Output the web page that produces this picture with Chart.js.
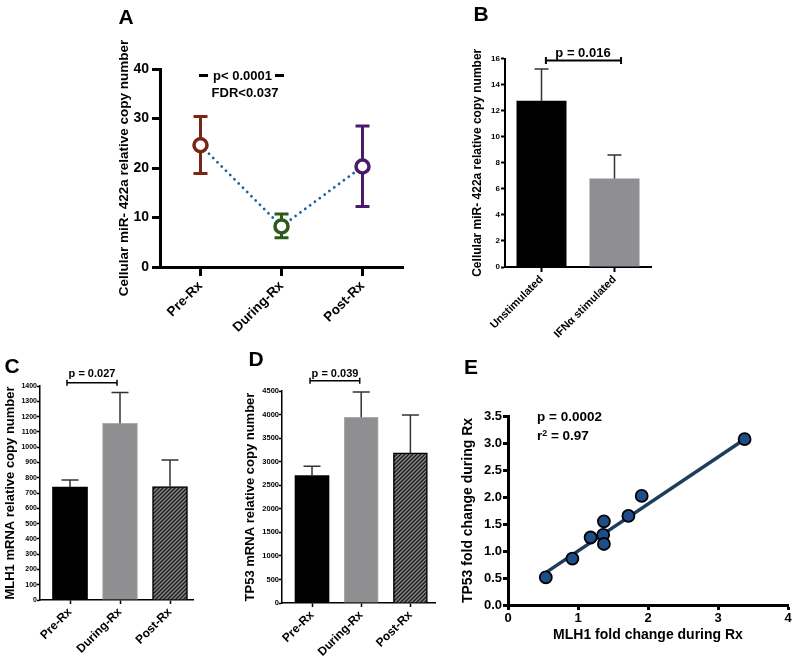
<!DOCTYPE html>
<html>
<head>
<meta charset="utf-8">
<script src="https://cdn.jsdelivr.net/npm/chart.js@4.4.0/dist/chart.umd.min.js"></script>
<style>
  body { margin: 0; background: #fff; width: 794px; height: 659px; position: relative; overflow: hidden;
         font-family: 'Liberation Sans', Arial, sans-serif; font-weight: bold; color: #000; }
  .box { position: absolute; }
  .t { position: absolute; transform: translate(-50%, -50%); white-space: nowrap; line-height: 1; }
  .tl { position: absolute; transform: translateY(-50%); white-space: nowrap; line-height: 1; }
  .dash { position: absolute; height: 3px; background: #000; }
  sup { font-size: 0.65em; line-height: 0; vertical-align: 0.45em; }
</style>
</head>
<body>
<div class="box" style="left:100px;top:25px;width:310px;height:320px"><canvas id="chartA"></canvas></div>
<div class="box" style="left:460px;top:30px;width:200px;height:310px"><canvas id="chartB"></canvas></div>
<div class="box" style="left:0px;top:375px;width:200px;height:284px"><canvas id="chartC"></canvas></div>
<div class="box" style="left:240px;top:375px;width:200px;height:284px"><canvas id="chartD"></canvas></div>
<div class="box" style="left:455px;top:400px;width:339px;height:259px"><canvas id="chartE"></canvas></div>

<div class="t" style="left:126px;top:16px;font-size:21px">A</div>
<div class="t" style="left:481px;top:13px;font-size:21px">B</div>
<div class="t" style="left:12px;top:365px;font-size:21px">C</div>
<div class="t" style="left:256px;top:358px;font-size:21px">D</div>
<div class="t" style="left:471px;top:366px;font-size:21px">E</div>

<div class="dash" style="left:199px;top:73.5px;width:9px"></div>
<div class="t" style="left:242.5px;top:75px;font-size:13px">p&lt; 0.0001</div>
<div class="dash" style="left:275px;top:73.5px;width:9px"></div>
<div class="t" style="left:245px;top:91.5px;font-size:13px">FDR&lt;0.037</div>
<div class="t" style="left:583px;top:52px;font-size:13px">p = 0.016</div>
<div class="t" style="left:92px;top:373px;font-size:11px">p = 0.027</div>
<div class="t" style="left:335px;top:373px;font-size:11px">p = 0.039</div>
<div class="tl" style="left:537px;top:417px;font-size:13.5px">p = 0.0002</div>
<div class="tl" style="left:537px;top:435.5px;font-size:13.5px">r<sup>2</sup> = 0.97</div>

<script>
// A: cellular miR-422a
const catsRx = ['Pre-Rx', 'During-Rx', 'Post-Rx'];
const mirMean = [24.6, 8.2, 20.3];
const mirLow = [18.9, 5.9, 12.2];
const mirHigh = [30.4, 10.7, 28.5];
const mirColors = ['#7b2418', '#2d5a1b', '#4b1a6b'];

// B: unstimulated vs IFN-alpha
const catsIfn = ['Unstimulated', 'IFNα stimulated'];
const ifnMean = [12.75, 6.8];
const ifnHigh = [15.2, 8.6];

// C: MLH1 mRNA
const mlh1Mean = [738, 1156, 742];
const mlh1High = [785, 1358, 916];

// D: TP53 mRNA
const tp53Mean = [2705, 3942, 3186];
const tp53High = [2904, 4478, 3991];

// E: fold change scatter + fit
const foldMlh1 = [0.54, 0.92, 1.18, 1.37, 1.36, 1.37, 1.72, 1.91, 3.38];
const foldTp53 = [0.51, 0.86, 1.25, 1.55, 1.30, 1.13, 1.65, 2.02, 3.07];
const fitX = [0.54, 3.38];
const fitY = [0.60, 3.07];

Chart.defaults.font.family = "'Liberation Sans', Arial, sans-serif";
Chart.defaults.font.weight = 'bold';
Chart.defaults.color = '#000';

function fixY(w) {
  return s => { s.width = w; s.paddingTop = 0; s.paddingBottom = 0; };
}
function fixX(h) {
  return s => { s.height = h; s.paddingLeft = 0; s.paddingRight = 0; };
}
function axisGrid(len, w) {
  return { display: true, drawOnChartArea: false, offset: false, tickLength: len, tickWidth: w, tickColor: '#000' };
}

function errorBars(id, lo, hi, colors, cap, width, before) {
  const draw = chart => {
    const ctx = chart.ctx, y = chart.scales.y;
    const meta = chart.getDatasetMeta(0);
    ctx.save();
    ctx.lineWidth = width;
    meta.data.forEach((p, i) => {
      const top = y.getPixelForValue(hi[i]);
      const bot = y.getPixelForValue(lo[i]);
      ctx.strokeStyle = Array.isArray(colors) ? colors[i] : colors;
      ctx.beginPath();
      ctx.moveTo(p.x, bot); ctx.lineTo(p.x, top);
      ctx.moveTo(p.x - cap / 2, top); ctx.lineTo(p.x + cap / 2, top);
      if (before) { ctx.moveTo(p.x - cap / 2, bot); ctx.lineTo(p.x + cap / 2, bot); }
      ctx.stroke();
    });
    ctx.restore();
  };
  return before ? { id, beforeDatasetsDraw: draw } : { id, afterDatasetsDraw: draw };
}

function bracket(id, x0, x1, yv, width, tick) {
  return {
    id,
    afterDraw(chart) {
      const { ctx, scales: { x, y } } = chart;
      const a = x.getPixelForValue(x0), b = x.getPixelForValue(x1), yy = y.getPixelForValue(yv);
      ctx.save();
      ctx.lineWidth = width;
      ctx.strokeStyle = '#000';
      ctx.beginPath();
      ctx.moveTo(a, yy); ctx.lineTo(b, yy);
      ctx.moveTo(a, yy - tick); ctx.lineTo(a, yy + tick);
      ctx.moveTo(b, yy - tick); ctx.lineTo(b, yy + tick);
      ctx.stroke();
      ctx.restore();
    }
  };
}

function hatch() {
  const c = document.createElement('canvas');
  c.width = c.height = 4;
  const g = c.getContext('2d');
  g.fillStyle = '#858585';
  g.fillRect(0, 0, 4, 4);
  g.strokeStyle = '#1e1e1e';
  g.lineWidth = 1.4;
  g.beginPath();
  g.moveTo(-1, 5); g.lineTo(5, -1);
  g.moveTo(-1, 1); g.lineTo(1, -1);
  g.moveTo(3, 5); g.lineTo(5, 3);
  g.stroke();
  return g.createPattern(c, 'repeat');
}

const base = {
  responsive: true,
  maintainAspectRatio: false,
  animation: false,
  plugins: { legend: { display: false }, tooltip: { enabled: false } }
};

// ---- A
new Chart(document.getElementById('chartA'), {
  type: 'line',
  data: {
    labels: catsRx,
    datasets: [{
      data: mirMean,
      borderColor: '#1f5f99',
      borderWidth: 2.8,
      borderDash: [0.01, 6],
      borderCapStyle: 'round',
      pointRadius: 6.5,
      pointBorderWidth: 3.5,
      pointBackgroundColor: '#fff',
      pointBorderColor: mirColors
    }]
  },
  options: {
    ...base,
    layout: { padding: { top: 44, right: 7, left: 0, bottom: 0 }, autoPadding: false },
    scales: {
      x: {
        offset: true,
        grid: axisGrid(9, 3),
        border: { color: '#000', width: 3 },
        ticks: { font: { size: 13.5 }, minRotation: 45, maxRotation: 45, padding: 2 },
        afterFit: fixX(78)
      },
      y: {
        min: 0, max: 40,
        grid: axisGrid(8, 3),
        border: { color: '#000', width: 3 },
        ticks: { stepSize: 10, font: { size: 14 }, padding: 3 },
        title: { display: true, text: 'Cellular miR- 422a relative copy number', font: { size: 13.5 }, padding: { top: 16, bottom: 0 } },
        afterFit: fixY(60)
      }
    }
  },
  plugins: [errorBars('errA', mirLow, mirHigh, mirColors, 14, 3, true)]
});

// ---- B
new Chart(document.getElementById('chartB'), {
  type: 'bar',
  data: {
    labels: catsIfn,
    datasets: [{ data: ifnMean, backgroundColor: ['#000', '#8e8e93'], barPercentage: 0.685, categoryPercentage: 1 }]
  },
  options: {
    ...base,
    layout: { padding: { top: 28.5, right: 9, left: 0, bottom: 0 }, autoPadding: false },
    scales: {
      x: {
        offset: true,
        grid: axisGrid(5, 2),
        border: { color: '#000', width: 2 },
        ticks: { font: { size: 11 }, minRotation: 45, maxRotation: 45, padding: 1 },
        afterFit: fixX(73)
      },
      y: {
        min: 0, max: 16,
        grid: axisGrid(4, 2),
        border: { color: '#000', width: 2 },
        ticks: { stepSize: 2, font: { size: 8 }, padding: 1 },
        title: { display: true, text: 'Cellular miR- 422a relative copy number', font: { size: 12 }, padding: { top: 10, bottom: 0 } },
        afterFit: fixY(45)
      }
    }
  },
  plugins: [errorBars('errB', ifnMean, ifnHigh, '#333', 14, 1.5, false), bracket('brB', 0.06, 1.09, 15.85, 2, 3.5)]
});

// ---- C and D share a layout
function rxBars(id, mean, high, yMax, step, yTitle, o) {
  return new Chart(document.getElementById(id), {
    type: 'bar',
    data: {
      datasets: [{
        data: catsRx.map((c, i) => ({ x: i + 1, y: mean[i] })),
        backgroundColor: ['#000', '#8f8f91', hatch()],
        borderColor: ['#000', '#ababad', '#000'],
        borderWidth: [0, 1, 1.5],
        barThickness: o.bar
      }]
    },
    options: {
      ...base,
      layout: { padding: { top: o.top, right: o.right, left: 0, bottom: 0 }, autoPadding: false },
      scales: {
        x: {
          type: 'linear', min: o.xMin, max: o.xMax, offset: false,
          grid: axisGrid(4, 1.5),
          border: { color: '#000', width: 1.5 },
          afterBuildTicks: s => { s.ticks = catsRx.map((c, i) => ({ value: i + 1 })); },
          ticks: { autoSkip: false, font: { size: 12 }, minRotation: 45, maxRotation: 45, padding: 1,
                   callback: v => catsRx[v - 1] },
          afterFit: fixX(o.xh)
        },
        y: {
          min: 0, max: yMax,
          grid: axisGrid(3, 1.5),
          border: { color: '#000', width: 1.5 },
          ticks: { stepSize: step, font: { size: o.tick }, padding: 0, callback: v => String(v) },
          title: { display: true, text: yTitle, font: { size: 13 }, padding: { top: o.tpad, bottom: 0 } },
          afterFit: fixY(o.yw)
        }
      }
    },
    plugins: [errorBars('err' + id, mean, high, '#333', 17, 1.5, false), bracket('br' + id, o.b0, o.b1, o.by, 1.5, 3)]
  });
}

rxBars('chartC', mlh1Mean, mlh1High, 1400, 100, 'MLH1 mRNA relative copy number',
  { bar: 35, top: 11, right: 7, xMin: 0.4, xMax: 3.46, xh: 59, yw: 40, tick: 7, tpad: 2.5, b0: 0.94, b1: 1.94, by: 1422 });
rxBars('chartD', tp53Mean, tp53High, 4500, 500, 'TP53 mRNA relative copy number',
  { bar: 34, top: 16, right: 5, xMin: 0.39, xMax: 3.5, xh: 56, yw: 42, tick: 7.5, tpad: 2.7, b0: 0.96, b1: 1.97, by: 4718 });

// ---- E
new Chart(document.getElementById('chartE'), {
  type: 'scatter',
  data: {
    datasets: [
      {
        data: foldMlh1.map((x, i) => ({ x, y: foldTp53[i] })),
        pointRadius: 6, pointBorderWidth: 1.8,
        pointBackgroundColor: '#1d4e89', pointBorderColor: '#000',
        order: 1
      },
      {
        type: 'line',
        data: fitX.map((x, i) => ({ x, y: fitY[i] })),
        borderColor: '#1f3c5a', borderWidth: 3.5, pointRadius: 0,
        order: 2
      }
    ]
  },
  options: {
    ...base,
    layout: { padding: { top: 16, right: 6, left: 0, bottom: 0 }, autoPadding: false },
    scales: {
      x: {
        min: 0, max: 4,
        grid: axisGrid(5, 3),
        border: { color: '#000', width: 3 },
        ticks: { stepSize: 1, font: { size: 13 }, padding: 1 },
        title: { display: true, text: 'MLH1 fold change during Rx', font: { size: 14 }, padding: { top: 0, bottom: 15.6 } },
        afterFit: fixX(54)
      },
      y: {
        min: 0, max: 3.5,
        grid: axisGrid(5, 3),
        border: { color: '#000', width: 3 },
        ticks: { stepSize: 0.5, font: { size: 13 }, padding: 1, callback: v => v.toFixed(1) },
        title: { display: true, text: 'TP53 fold change during Rx', font: { size: 14 }, padding: { top: 4.3, bottom: 0 } },
        afterFit: fixY(53)
      }
    }
  }
});
</script>
</body>
</html>
